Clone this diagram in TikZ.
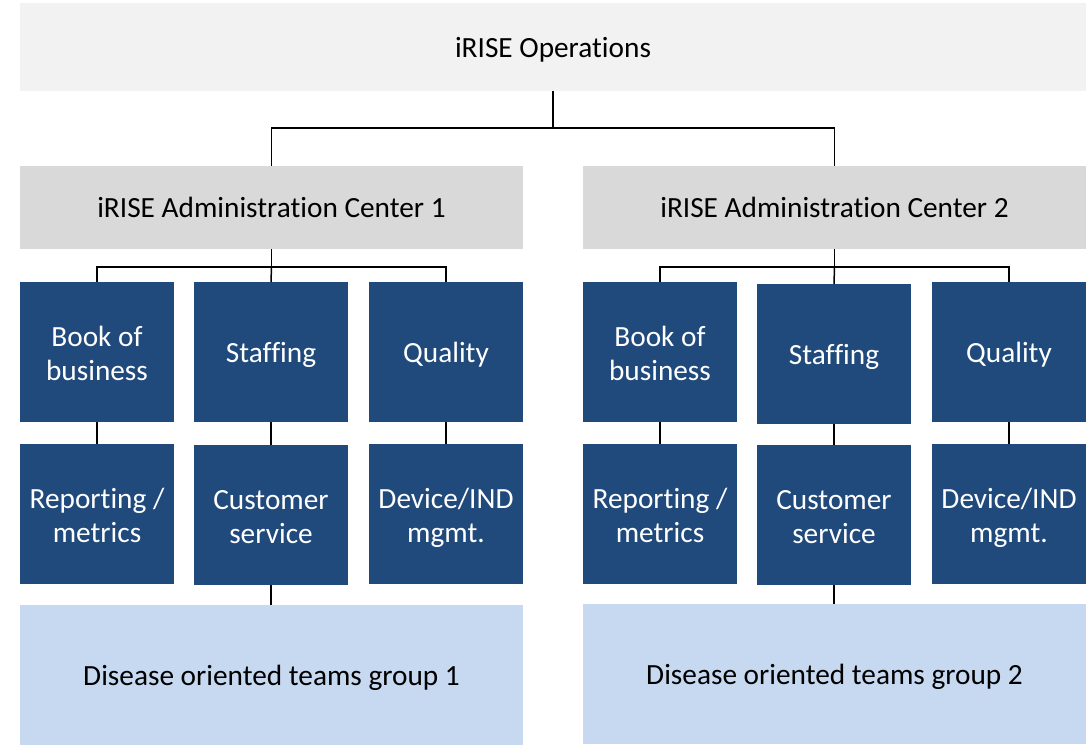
\documentclass[tikz,border=0pt]{standalone}
\usepackage{fontspec}
\setmainfont{Carlito}[Ligatures=NoCommon]
\definecolor{opsgray}{HTML}{F2F2F2}
\definecolor{admgray}{HTML}{D9D9D9}
\definecolor{deptblue}{HTML}{214A7C}
\definecolor{grpblue}{HTML}{C6D9F1}
\newcommand\topstrut{\rule{0pt}{29pt}}
\newcommand\botstrut{\rule[-6pt]{0pt}{0pt}}
\begin{document}
\begin{tikzpicture}[x=1pt,y=-1pt,
  base/.style={anchor=north west,inner sep=0pt,outer sep=0pt,align=center,
    font=\fontsize{29.3}{34.5}\selectfont},
  oneline/.style={execute at begin node={\rule{0pt}{26pt}},
    execute at end node={\rule[-6pt]{0pt}{0pt}}},
  opsbox/.style={base,oneline,fill=opsgray,minimum width=1066pt,minimum height=88pt},
  admbox/.style={base,oneline,fill=admgray,minimum width=503pt,minimum height=83pt},
  deptbox/.style={base,fill=deptblue,text=white,minimum width=154pt,minimum height=140pt},
  grpbox/.style={base,oneline,fill=grpblue,minimum width=503pt,minimum height=140pt},
  conn/.style={draw=black,line width=1.5pt}]
\useasboundingbox (0,0) rectangle (1092,745);
% top
\node[opsbox] (ops) at (20,3) {iRISE Operations};
\node[admbox] (adm1) at (20,166) {iRISE Administration Center 1};
\node[admbox] (adm2) at (583,166) {iRISE Administration Center 2};
% left column
\node[deptbox] (b1) at (20,282) {\topstrut Book of\\business\botstrut};
\node[deptbox,oneline] (s1) at (194,282) {Staffing};
\node[deptbox,oneline] (q1) at (369,282) {Quality};
\node[deptbox] (r1) at (20,444) {\topstrut Reporting /\\metrics\botstrut};
\node[deptbox] (c1) at (194,445) {\topstrut Customer\\service\botstrut};
\node[deptbox] (d1) at (369,444) {\topstrut Device/IND\\mgmt.\botstrut};
\node[grpbox] (g1) at (20,605) {Disease oriented teams group 1};
% right column
\node[deptbox] (b2) at (583,282) {\topstrut Book of\\business\botstrut};
\node[deptbox,oneline] (s2) at (757,284) {Staffing};
\node[deptbox,oneline] (q2) at (932,282) {Quality};
\node[deptbox] (r2) at (583,444) {\topstrut Reporting /\\metrics\botstrut};
\node[deptbox] (c2) at (757,445) {\topstrut Customer\\service\botstrut};
\node[deptbox] (d2) at (932,444) {\topstrut Device/IND\\mgmt.\botstrut};
\node[grpbox] (g2) at (583,604) {Disease oriented teams group 2};
% junctions
\coordinate (j0) at (553,128);
\coordinate (j1) at (271.5,267);
\coordinate (j2) at (834.5,267);
% connectors
\draw[conn] (ops.south) -- (j0);
\draw[conn] (j0) -| (adm1.north);
\draw[conn] (j0) -| (adm2.north);
\draw[conn] (adm1.south) -- (j1);
\draw[conn] (j1) -| (b1.north);
\draw[conn] (j1) -| (q1.north);
\draw[conn] (j1) -- (s1.north);
\draw[conn] (adm2.south) -- (j2);
\draw[conn] (j2) -| (b2.north);
\draw[conn] (j2) -| (q2.north);
\draw[conn] (j2) -- (s2.north);
\draw[conn] (b1.south) -- (r1.north);
\draw[conn] (s1.south) -- (c1.north);
\draw[conn] (q1.south) -- (d1.north);
\draw[conn] (b2.south) -- (r2.north);
\draw[conn] (s2.south) -- (c2.north);
\draw[conn] (q2.south) -- (d2.north);
\draw[conn] (c1.south) -- (c1.south |- g1.north);
\draw[conn] (c2.south) -- (c2.south |- g2.north);
\end{tikzpicture}
\end{document}
